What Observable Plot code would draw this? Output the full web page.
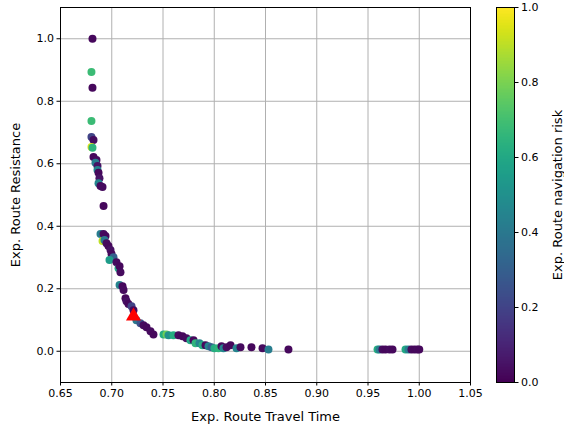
<!DOCTYPE html>
<html>
<head>
<meta charset="utf-8">
<script src="https://cdn.jsdelivr.net/npm/d3@7"></script>
<script src="https://cdn.jsdelivr.net/npm/@observablehq/plot@0.6"></script>
<style>
  html, body { margin: 0; padding: 0; background: white; }
  #wrap { position: relative; width: 564px; height: 429px; }
  #wrap svg { position: absolute; left: 0; top: 0; }
</style>
</head>
<body>
<div id="wrap"></div>
<script>
const travelTime = [
  0.6812, 0.6802, 0.6812, 0.6802, 0.6802, 0.6822, 0.6802, 0.6812, 0.6822, 0.6851,
  0.6841, 0.6861, 0.6861, 0.6871, 0.6880, 0.6871, 0.6890, 0.6910, 0.6920, 0.6890,
  0.6920, 0.6939, 0.6910, 0.6929, 0.6949, 0.6968, 0.6988, 0.6998, 0.7017, 0.6978,
  0.7046, 0.7066, 0.7076, 0.7085, 0.7076, 0.7105, 0.7115, 0.7134, 0.7144, 0.7163,
  0.7193, 0.7212, 0.7241, 0.7280, 0.7310, 0.7339, 0.7378, 0.7407, 0.7505, 0.7534,
  0.7554, 0.7602, 0.7651, 0.7690, 0.7729, 0.7768, 0.7798, 0.7817, 0.7856, 0.7885,
  0.7915, 0.7944, 0.7973, 0.8002, 0.8041, 0.8071, 0.8090, 0.8120, 0.8159, 0.8217,
  0.8256, 0.8363, 0.8471, 0.8529, 0.8724, 0.9593, 0.9612, 0.9641, 0.9671, 0.9710,
  0.9739, 0.9866, 0.9895, 0.9924, 0.9954, 0.9983, 1.0000
];
const resistance = [
  1.000, 0.894, 0.843, 0.737, 0.686, 0.676, 0.654, 0.651, 0.622, 0.612,
  0.603, 0.593, 0.580, 0.571, 0.554, 0.538, 0.529, 0.526, 0.465, 0.375,
  0.375, 0.369, 0.353, 0.356, 0.346, 0.337, 0.324, 0.311, 0.301, 0.292,
  0.285, 0.266, 0.272, 0.253, 0.212, 0.208, 0.196, 0.170, 0.160, 0.151,
  0.144, 0.131, 0.099, 0.090, 0.083, 0.077, 0.064, 0.054, 0.054, 0.054,
  0.051, 0.051, 0.051, 0.048, 0.042, 0.035, 0.035, 0.026, 0.026, 0.019,
  0.019, 0.016, 0.013, 0.010, 0.010, 0.016, 0.010, 0.013, 0.019, 0.010,
  0.013, 0.013, 0.010, 0.006, 0.006, 0.006, 0.006, 0.006, 0.006, 0.006,
  0.006, 0.006, 0.006, 0.006, 0.006, 0.006, 0.006
];
const navRisk = [
  0.02, 0.68, 0.02, 0.68, 0.20, 0.03, 0.95, 0.65, 0.02, 0.03,
  0.42, 0.05, 0.45, 0.02, 0.05, 0.45, 0.02, 0.03, 0.02, 0.42,
  0.03, 0.02, 0.90, 0.40, 0.03, 0.02, 0.04, 0.02, 0.30, 0.55,
  0.03, 0.60, 0.02, 0.03, 0.45, 0.02, 0.03, 0.02, 0.04, 0.02,
  0.20, 0.03, 0.40, 0.25, 0.03, 0.02, 0.03, 0.02, 0.62, 0.78,
  0.50, 0.62, 0.03, 0.02, 0.03, 0.60, 0.02, 0.65, 0.45, 0.62,
  0.03, 0.45, 0.30, 0.62, 0.65, 0.02, 0.45, 0.03, 0.02, 0.45,
  0.03, 0.02, 0.03, 0.42, 0.02, 0.62, 0.42, 0.03, 0.02, 0.03,
  0.02, 0.60, 0.42, 0.03, 0.02, 0.03, 0.02
];
const chosenTime = [0.7212];
const chosenResistance = [0.112];

const xTicks = [0.65, 0.70, 0.75, 0.80, 0.85, 0.90, 0.95, 1.00, 1.05];
const yTicks = [0.0, 0.2, 0.4, 0.6, 0.8, 1.0];
const cbTicks = [0.0, 0.2, 0.4, 0.6, 0.8, 1.0];

const points = travelTime.map((t, i) => ({t, r: resistance[i], k: navRisk[i]}));
const chosen = chosenTime.map((t, i) => ({t, r: chosenResistance[i]}));

const font = "DejaVu Sans, sans-serif";

const main = Plot.plot({
  width: 564, height: 429,
  marginLeft: 60, marginRight: 94, marginTop: 7, marginBottom: 47,
  style: {fontFamily: font, fontSize: "11px", background: "white", color: "black", overflow: "visible"},
  x: {domain: [0.65, 1.05]},
  y: {domain: [-0.1, 1.1]},
  color: {type: "linear", scheme: "viridis", domain: [0, 1]},
  marks: [
    Plot.gridX(xTicks, {stroke: "#b0b0b0", strokeOpacity: 1, strokeWidth: 1}),
    Plot.gridY(yTicks, {stroke: "#b0b0b0", strokeOpacity: 1, strokeWidth: 1}),
    Plot.dot(points, {x: "t", y: "r", fill: "k", r: 4, stroke: null}),
    Plot.dot(chosen, {x: "t", y: "r", symbol: "triangle", fill: "red", r: 5.6}),
    Plot.frame({stroke: "black", strokeWidth: 1}),
    Plot.axisX({ticks: xTicks, tickFormat: d3.format(".2f"), tickSize: 3.5, tickPadding: 3, label: null}),
    Plot.axisY({ticks: yTicks, tickFormat: d3.format(".1f"), tickSize: 3.5, tickPadding: 3, label: null}),
    Plot.text(["Exp. Route Travel Time"], {frameAnchor: "bottom", dy: 38, fontSize: 13, fill: "black", textAnchor: "middle"}),
    Plot.text(["Exp. Route Resistance"], {frameAnchor: "left", dx: -45, rotate: -90, fontSize: 13, fill: "black", textAnchor: "middle"})
  ]
});

const step = 1 / 256;
const bands = d3.range(0, 1, step);
const colorbar = Plot.plot({
  width: 564, height: 429,
  marginLeft: 496, marginRight: 50, marginTop: 7, marginBottom: 47,
  style: {fontFamily: font, fontSize: "11px", background: "transparent", color: "black", overflow: "visible"},
  x: {domain: [0, 1], axis: null},
  y: {domain: [0, 1]},
  color: {type: "linear", scheme: "viridis", domain: [0, 1]},
  marks: [
    Plot.rect(bands, {x1: 0, x2: 1, y1: d => d, y2: d => Math.min(1, d + 2.5 * step), fill: d => d + step / 2, inset: 0, shapeRendering: "crispEdges"}),
    Plot.frame({stroke: "black", strokeWidth: 1}),
    Plot.axisY({anchor: "right", ticks: cbTicks, tickFormat: d3.format(".1f"), tickSize: 3.5, tickPadding: 3, label: null}),
    Plot.text(["Exp. Route navigation risk"], {frameAnchor: "right", dx: 43, rotate: -90, fontSize: 13, fill: "black", textAnchor: "middle"})
  ]
});

const wrap = document.getElementById("wrap");
wrap.appendChild(main);
wrap.appendChild(colorbar);
</script>
</body>
</html>
